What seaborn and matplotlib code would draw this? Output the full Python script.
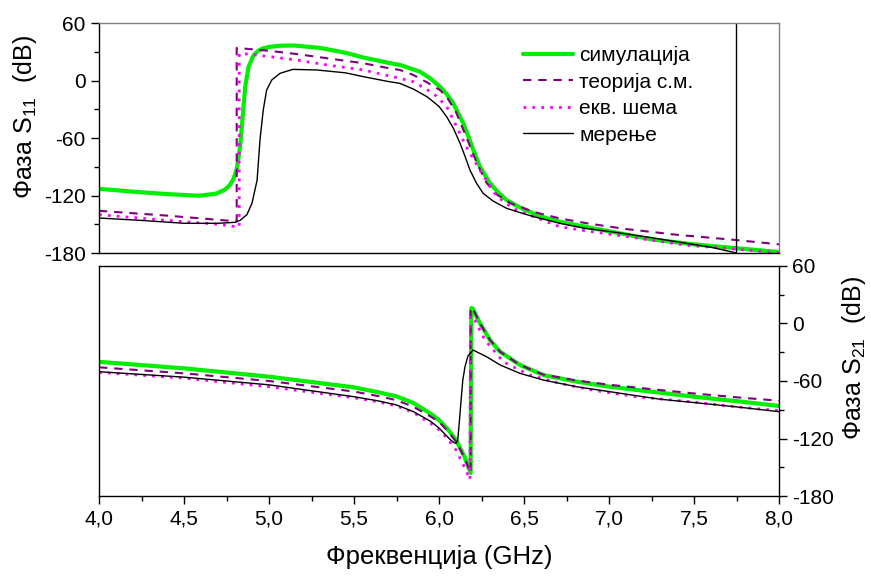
import matplotlib
matplotlib.use("Agg")
import matplotlib.pyplot as plt
import seaborn as sns
from matplotlib.ticker import MultipleLocator

# phase S11 (top panel)
sim_s11_f = [4.0, 4.2, 4.4, 4.59, 4.69, 4.74, 4.77, 4.79, 4.81, 4.83, 4.845, 4.86, 4.88, 4.91, 4.94,
             4.966, 5.0, 5.065, 5.15, 5.3, 5.45, 5.555, 5.7, 5.771, 5.888, 5.95, 6.006, 6.045, 6.084,
             6.143, 6.17, 6.202, 6.241, 6.3, 6.35, 6.398, 6.47, 6.555, 6.63, 6.712, 6.87, 7.05, 7.26,
             7.5, 7.75, 8.0]
sim_s11 = [-113, -116, -118.5, -120.3, -118, -114, -109, -103, -93, -69, -38, -6.5, 14.4, 26.6, 31.5,
           33.6, 35, 36.3, 36.5, 34, 29, 24, 18.5, 16.2, 9.2, 2, -6.5, -14, -23.8,
           -44.7, -57, -72.6, -90, -107.3, -117, -124.8, -132, -138.6, -143.5, -147.4, -153, -159, -166,
           -171, -175, -179]

teo_s11_f = [4.0, 4.4, 4.81, 4.81, 5.0, 5.163, 5.35, 5.555, 5.7, 5.77, 5.85, 5.93, 6.006, 6.045, 6.1,
             6.16, 6.22, 6.28, 6.34, 6.42, 6.555, 6.71, 6.87, 7.1, 7.4, 7.75, 8.0]
teo_s11 = [-136, -141, -147, 34, 31, 27.6, 23, 18, 13, 11, 5.7, -2, -10, -17, -33,
           -58.7, -85, -107, -119, -128, -137, -143.9, -149, -155, -161, -166.5, -171]

ekv_s11_f = [4.0, 4.4, 4.7, 4.825, 4.825, 4.85, 5.0, 5.16, 5.35, 5.555, 5.7, 5.77, 5.85, 5.967, 6.045,
             6.084, 6.16, 6.24, 6.34, 6.44, 6.555, 6.71, 6.87, 7.15, 7.46, 7.75, 8.0]
ekv_s11 = [-140, -146, -150, -153, 28, 28, 25, 21.4, 16, 11, 5, 2.3, -1.3, -13.4, -27,
           -41, -69, -93.4, -121, -134, -142, -152.6, -157, -164, -172, -176, -180]

mer_s11_f = [4.0, 4.25, 4.5, 4.7, 4.8, 4.83, 4.85, 4.87, 4.9, 4.93, 4.947, 4.966, 4.986, 5.016, 5.065,
             5.14, 5.28, 5.45, 5.555, 5.7, 5.77, 5.85, 5.93, 6.0, 6.045, 6.085, 6.124, 6.155, 6.182,
             6.22, 6.26, 6.32, 6.398, 6.48, 6.555, 6.71, 6.85, 7.06, 7.25, 7.46, 7.6, 7.75, 7.75, 8.0]
mer_s11 = [-143.5, -146, -149, -149, -148, -146, -143, -140, -128, -104, -62, -31, -10, 0.5, 7.5,
           11.6, 11, 8, 4, -1, -3, -9, -17, -27, -37.8, -50, -65.6, -80, -93.4,
           -107, -117.8, -126, -133.4, -138, -142, -149, -154, -159, -164, -170, -174, -180, 180, 175]

# phase S21 (bottom panel)
sim_s21_f = [4.0, 4.5, 5.0, 5.5, 5.65, 5.75, 5.85, 5.9, 5.95, 6.0, 6.05, 6.1, 6.15, 6.186, 6.19,
             6.198, 6.241, 6.3, 6.359, 6.476, 6.614, 6.81, 7.006, 7.3, 7.5, 7.75, 8.0]
sim_s21 = [-40, -46.8, -55.5, -66.6, -72, -76, -83, -88.5, -94, -100.7, -110, -121.6, -139, -156, 16,
           15.8, 0.2, -17.2, -29.4, -43.3, -53.8, -60.7, -66, -72.2, -76.4, -81, -86]

teo_s21_f = [4.0, 4.5, 5.0, 5.5, 5.65, 5.75, 5.85, 5.9, 5.95, 6.0, 6.05, 6.1, 6.15, 6.186, 6.186,
             6.198, 6.241, 6.3, 6.359, 6.476, 6.614, 6.81, 7.006, 7.3, 7.5, 7.75, 8.0]
teo_s21 = [-45.7, -52, -60, -71, -76, -80, -87, -92, -97, -102.5, -112, -123, -140, -156, 16,
           15.8, 0.2, -17.2, -29.4, -43.3, -53.3, -59.5, -64, -69.4, -73, -77, -80.6]

ekv_s21_f = [4.0, 4.5, 5.0, 5.5, 5.65, 5.75, 5.85, 5.95, 6.0, 6.05, 6.1, 6.15, 6.182, 6.185, 6.21,
             6.27, 6.378, 6.535, 6.71, 6.9, 7.16, 7.5, 7.75, 8.0]
ekv_s21 = [-51, -57, -66, -77.5, -82, -86, -93, -104, -111, -120, -132, -150, -163, 8, 3.6,
           -17.2, -40, -53.8, -62.5, -69.4, -76.4, -82, -87, -91]

mer_s21_f = [4.0, 4.5, 5.0, 5.5, 5.65, 5.75, 5.85, 5.9, 5.95, 6.0, 6.065, 6.09, 6.1, 6.11, 6.12,
             6.13, 6.14, 6.153, 6.17, 6.2, 6.28, 6.36, 6.476, 6.614, 6.81, 7.006, 7.3, 7.5, 7.75, 8.0]
mer_s21 = [-50.3, -56, -64, -76.4, -81, -85, -92, -97, -102, -109, -121, -124.5, -125, -122, -102,
           -80, -59, -45, -34, -27.7, -34.7, -43.3, -52, -59, -66, -71.2, -79, -82.5, -87, -92]

x_ticks = [4.0, 4.5, 5.0, 5.5, 6.0, 6.5, 7.0, 7.5, 8.0]
x_labels = ["4,0", "4,5", "5,0", "5,5", "6,0", "6,5", "7,0", "7,5", "8,0"]
y_ticks = [-180, -120, -60, 0, 60]

sns.set_style("ticks")
plt.rcParams["font.family"] = ["Liberation Sans", "DejaVu Sans"]
plt.rcParams["mathtext.default"] = "regular"
plt.rcParams["axes.unicode_minus"] = False
plt.rcParams["text.color"] = "black"
plt.rcParams["axes.labelcolor"] = "black"

fig = plt.figure(figsize=(8.71, 5.77), dpi=100)
ax1 = fig.add_axes([99 / 871, 1 - 253 / 577, 680 / 871, 230 / 577])
ax2 = fig.add_axes([99 / 871, 1 - 496 / 577, 680 / 871, 230 / 577])

styles = [
    ("симулација", "#00ee00", "-", 3.0),
    ("теорија с.м.", "#800080", (0, (4, 3.3)), 1.5),
    ("екв. шема", "#ff00ff", (0, (1, 2.2)), 2.0),
    ("мерење", "black", "-", 1.0),
]
top = [(sim_s11_f, sim_s11), (teo_s11_f, teo_s11), (ekv_s11_f, ekv_s11), (mer_s11_f, mer_s11)]
bottom = [(sim_s21_f, sim_s21), (teo_s21_f, teo_s21), (ekv_s21_f, ekv_s21), (mer_s21_f, mer_s21)]

for (lab, col, ls, lw), (f, v) in zip(styles, top):
    sns.lineplot(x=f, y=v, ax=ax1, estimator=None, sort=False, color=col,
                 linestyle=ls, linewidth=lw, label=lab)
for (lab, col, ls, lw), (f, v) in zip(styles, bottom):
    sns.lineplot(x=f, y=v, ax=ax2, estimator=None, sort=False, color=col,
                 linestyle=ls, linewidth=lw)

for ax in (ax1, ax2):
    ax.set_xlim(4.0, 8.0)
    ax.set_ylim(-180, 60)
    ax.set_yticks(y_ticks)
    ax.yaxis.set_minor_locator(MultipleLocator(30))
    for s in ax.spines.values():
        s.set_visible(True)
        s.set_linewidth(1.0)
        s.set_color("black")
    ax.tick_params(which="major", direction="out", length=6, width=1, labelsize=15,
                   colors="black", labelcolor="black")
    ax.tick_params(which="minor", direction="out", length=3.5, width=1, colors="black")

# top panel
ax1.spines["top"].set_color("#808080")
ax1.spines["right"].set_color("#808080")
ax1.tick_params(axis="x", which="both", bottom=False, labelbottom=False)
ax1.set_ylabel("Фаза S$_{11}$  (dB)", fontsize=18)
ax1.yaxis.set_label_coords(-0.088, 0.59)
ax1.set_xlabel("")
ax1.legend(loc="upper left", bbox_to_anchor=(0.6235, 0.9), frameon=False, fontsize=15,
           handlelength=2.4, handletextpad=0.3, labelspacing=0.36, borderpad=0, borderaxespad=0)

# bottom panel
ax2.set_xticks(x_ticks)
ax2.set_xticklabels(x_labels)
ax2.xaxis.set_minor_locator(MultipleLocator(0.25))
ax2.yaxis.tick_right()
ax2.yaxis.set_label_position("right")
ax2.tick_params(axis="y", which="both", left=False, right=True)
ax2.set_ylabel("Фаза S$_{21}$  (dB)", fontsize=18)
ax2.yaxis.set_label_coords(1.09, 0.6)
ax2.set_xlabel("Фреквенција (GHz)", fontsize=18.5, labelpad=12)

fig.savefig("out.png", dpi=100)
